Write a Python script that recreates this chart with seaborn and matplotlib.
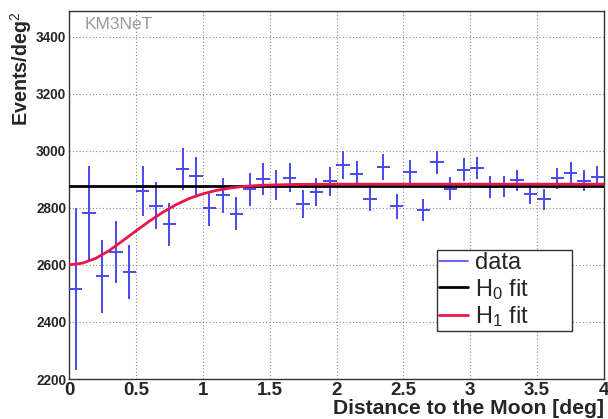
import numpy as np
import pandas as pd
import matplotlib
matplotlib.use("Agg")
import matplotlib.pyplot as plt
from matplotlib.ticker import MultipleLocator
from matplotlib.lines import Line2D
import seaborn as sns

# ---- data ----
bin_centers = [0.05, 0.15, 0.25, 0.35, 0.45, 0.55, 0.65, 0.75, 0.85, 0.95,
               1.05, 1.15, 1.25, 1.35, 1.45, 1.55, 1.65, 1.75, 1.85, 1.95,
               2.05, 2.15, 2.25, 2.35, 2.45, 2.55, 2.65, 2.75, 2.85, 2.95,
               3.05, 3.15, 3.25, 3.35, 3.45, 3.55, 3.65, 3.75, 3.85, 3.95]
events = [2515, 2781, 2560, 2646, 2575, 2858, 2808, 2742, 2936, 2912,
          2798, 2844, 2779, 2865, 2900, 2879, 2906, 2814, 2856, 2893,
          2950, 2920, 2832, 2942, 2805, 2926, 2793, 2959, 2867, 2933,
          2939, 2873, 2876, 2896, 2850, 2830, 2903, 2923, 2895, 2909]
errors = [283, 166, 127, 108, 94, 88, 82, 75, 74, 67,
          61, 61, 58, 57, 56, 52, 51, 50, 49, 50,
          48, 45, 43, 45, 43, 42, 39, 41, 40, 40,
          38, 39, 37, 38, 37, 37, 36, 36, 36, 36]
bin_halfwidth = 0.05

h0_x = [0.0, 4.0]
h0_y = [2877, 2877]

h1_x = [0.0, 0.1, 0.2, 0.3, 0.4, 0.5, 0.6, 0.7, 0.8, 0.9, 1.0,
        1.1, 1.2, 1.3, 1.4, 1.5, 1.7, 2.0, 4.0]
h1_y = [2600, 2606, 2623, 2650, 2684, 2719, 2753, 2784, 2811, 2833, 2849,
        2861, 2869, 2875, 2878, 2880, 2882, 2883, 2883]

xticks_major = [0, 0.5, 1, 1.5, 2, 2.5, 3, 3.5, 4]
xtick_labels = ["0", "0.5", "1", "1.5", "2", "2.5", "3", "3.5", "4"]
yticks_major = [2200, 2400, 2600, 2800, 3000, 3200, 3400]

# ---- style ----
sns.set_style("white")
plt.rcParams["font.family"] = ["Liberation Sans", "DejaVu Sans"]
plt.rcParams["mathtext.fontset"] = "custom"
plt.rcParams["mathtext.rm"] = "Liberation Sans"
plt.rcParams["mathtext.it"] = "Liberation Sans"
plt.rcParams["mathtext.bf"] = "Liberation Sans:bold"

fig = plt.figure(figsize=(6.08, 4.19), dpi=100)
ax = fig.add_axes([69 / 608, 1 - 379 / 419, 535 / 608, 368 / 419])

data_color = "#4a4af0"
red = "#e8174a"

# grid
for xv in xticks_major[1:-1]:
    ax.axvline(xv, color="#888888", lw=0.8, ls=(0, (1, 2)), zorder=0)
for yv in yticks_major[1:]:
    ax.axhline(yv, color="#888888", lw=0.8, ls=(0, (1, 2)), zorder=0)

# data with error bars
ax.errorbar(bin_centers, events, yerr=errors,
            xerr=[bin_halfwidth] * len(bin_centers),
            fmt="none", ecolor=data_color, elinewidth=1.4, capsize=0, zorder=3)

df0 = pd.DataFrame({"x": h0_x, "y": h0_y})
df1 = pd.DataFrame({"x": h1_x, "y": h1_y})
sns.lineplot(data=df0, x="x", y="y", ax=ax, color="black", lw=2.0, zorder=4)
sns.lineplot(data=df1, x="x", y="y", ax=ax, color=red, lw=2.0, zorder=5)

ax.set_xlim(0, 4)
ax.set_ylim(2200, 3490)

ax.xaxis.set_major_locator(MultipleLocator(0.5))
ax.xaxis.set_minor_locator(MultipleLocator(0.1))
ax.yaxis.set_major_locator(MultipleLocator(200))
ax.yaxis.set_minor_locator(MultipleLocator(40))
ax.set_xticks(xticks_major)
ax.set_xticklabels(xtick_labels)
ax.set_yticks(yticks_major)
ax.tick_params(axis="both", which="both", direction="in", top=False, right=False,
               color="#444444")
ax.tick_params(axis="x", which="major", length=10, width=1, labelsize=13.5, pad=2)
ax.tick_params(axis="x", which="minor", length=5, width=1)
ax.tick_params(axis="y", which="major", length=10, width=1, labelsize=9.8, pad=2)
ax.tick_params(axis="y", which="minor", length=5, width=1)
for lab in ax.get_xticklabels() + ax.get_yticklabels():
    lab.set_fontweight("bold")

for s in ax.spines.values():
    s.set_color("#333333")
    s.set_linewidth(1.0)

ax.set_xlabel("Distance to the Moon [deg]", fontsize=15.2, fontweight="bold",
              loc="right")
ax.xaxis.label.set_va("baseline")
ax.xaxis.set_label_coords(1.0, -35 / 368)

ax.set_ylabel(r"Events/deg$^2$", fontsize=14.2, fontweight="bold", loc="top")
ax.yaxis.label.set_va("baseline")
ax.yaxis.set_label_coords(-41 / 535, 1.0)

ax.text(0.03, 0.985, "KM3NeT", transform=ax.transAxes, fontsize=12.5,
        color="#9a9a9a", ha="left", va="top")

handles = [Line2D([], [], color=data_color, lw=1.2),
           Line2D([], [], color="black", lw=2),
           Line2D([], [], color=red, lw=2)]
labels = ["data", r"H$_0$ fit", r"H$_1$ fit"]
leg = ax.legend(handles, labels, loc="lower left",
                bbox_to_anchor=(0.688, 0.130, 0.252, 0.250), mode="expand",
                fontsize=17, frameon=True, fancybox=False, framealpha=1,
                borderpad=0.1, labelspacing=0.1, handlelength=1.2,
                handletextpad=0.3, borderaxespad=0)
leg.get_frame().set_edgecolor("#333333")
leg.get_frame().set_linewidth(1.0)

fig.savefig("out.png", dpi=100)
